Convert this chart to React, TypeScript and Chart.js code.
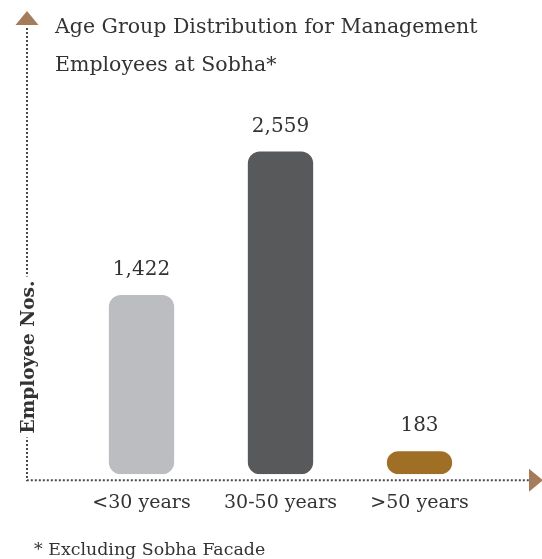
import { useEffect, useRef } from 'react';
import { Chart, registerables } from 'chart.js';

Chart.register(...registerables);

const categories = ['<30 years', '30-50 years', '>50 years'];
const employees = [1422, 2559, 183];
const barColors = ['#bcbdc0', '#58595b', '#a06f26'];
const titleLines = ['Age Group Distribution for Management', 'Employees at Sobha*'];
const yAxisLabel = 'Employee Nos.';
const footnote = '* Excluding Sobha Facade';

const FONT = '"DejaVu Serif", serif';
const TEXT = '#333336';
const ARROW = '#a57c5b';

const decorPlugin = {
  id: 'decor',
  beforeDatasetsDraw(chart: any) {
    const ctx = chart.ctx;
    const area = chart.chartArea;
    const axisY = area.bottom + 6;
    const axisX = 27;
    ctx.save();
    // dotted axes
    ctx.strokeStyle = '#4a4a4a';
    ctx.lineWidth = 2;
    ctx.setLineDash([2, 2]);
    ctx.beginPath();
    ctx.moveTo(axisX, 28);
    ctx.lineTo(axisX, axisY);
    ctx.lineTo(529, axisY);
    ctx.stroke();
    ctx.setLineDash([]);
    // arrows
    ctx.fillStyle = ARROW;
    ctx.beginPath();
    ctx.moveTo(axisX, 11);
    ctx.lineTo(axisX - 11.5, 25);
    ctx.lineTo(axisX + 11.5, 25);
    ctx.closePath();
    ctx.fill();
    ctx.beginPath();
    ctx.moveTo(543, axisY);
    ctx.lineTo(529, axisY - 11.5);
    ctx.lineTo(529, axisY + 11.5);
    ctx.closePath();
    ctx.fill();
    // title
    ctx.fillStyle = TEXT;
    ctx.font = `20.5px ${FONT}`;
    ctx.textAlign = 'left';
    ctx.textBaseline = 'alphabetic';
    titleLines.forEach((t, i) => ctx.fillText(t, 55, 33 + i * 38));
    // footnote
    ctx.font = `17.4px ${FONT}`;
    ctx.fillText(footnote, 34, 555);
    // y axis label
    ctx.translate(28, 357);
    ctx.rotate(-Math.PI / 2);
    ctx.font = `bold 18.5px ${FONT}`;
    const w = ctx.measureText(yAxisLabel).width;
    ctx.fillStyle = '#ffffff';
    ctx.fillRect(-w / 2 - 4, -12, w + 8, 24);
    ctx.fillStyle = TEXT;
    ctx.textAlign = 'center';
    ctx.textBaseline = 'middle';
    ctx.fillText(yAxisLabel, 0, 1);
    ctx.restore();
  },
  afterDatasetsDraw(chart: any) {
    const ctx = chart.ctx;
    const meta = chart.getDatasetMeta(0);
    ctx.save();
    ctx.fillStyle = TEXT;
    ctx.font = `20px ${FONT}`;
    ctx.textAlign = 'center';
    ctx.textBaseline = 'alphabetic';
    meta.data.forEach((el: any, i: number) => {
      ctx.fillText(employees[i].toLocaleString('en-US'), el.x, el.y - 20);
    });
    ctx.restore();
  },
};

export default function App() {
  const ref = useRef<HTMLCanvasElement>(null);
  useEffect(() => {
    const chart = new Chart(ref.current!, {
      type: 'bar',
      data: {
        labels: categories,
        datasets: [
          {
            data: employees,
            backgroundColor: barColors,
            borderRadius: 12,
            borderSkipped: false,
            barPercentage: 0.47,
            categoryPercentage: 1,
          },
        ],
      },
      options: {
        responsive: false,
        animation: false,
        layout: { padding: { left: 72, right: 53, top: 96, bottom: 28 } },
        plugins: { legend: { display: false }, tooltip: { enabled: false } },
        scales: {
          x: {
            grid: { display: false, drawTicks: false },
            border: { display: false },
            ticks: { color: TEXT, font: { family: FONT, size: 19 }, padding: 17 },
          },
          y: { display: false, min: 0, max: 3000 },
        },
      },
      plugins: [decorPlugin],
    });
    return () => chart.destroy();
  }, []);
  return (
    <div style={{ position: 'absolute', left: 0, top: 0, width: 542, height: 559 }}>
      <canvas ref={ref} width={542} height={559} />
    </div>
  );
}
